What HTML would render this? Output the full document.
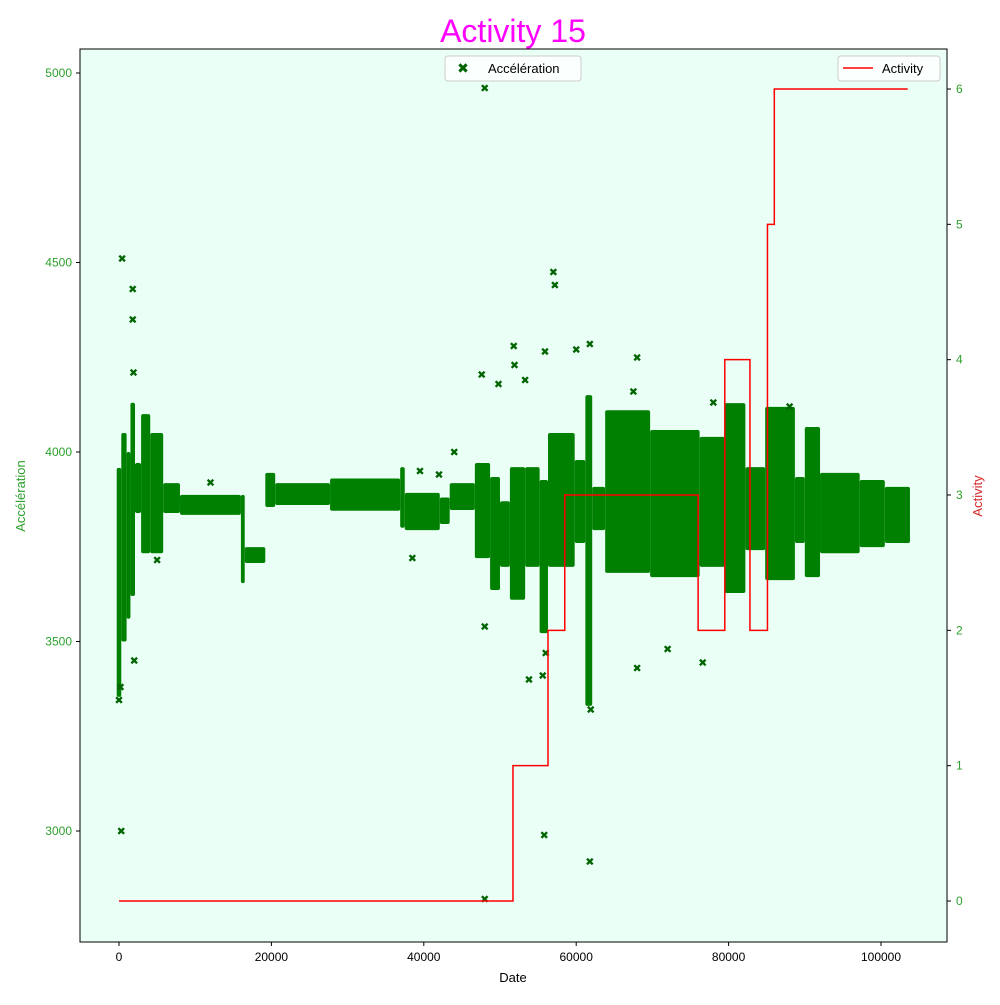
<!DOCTYPE html>
<html><head><meta charset="utf-8"><style>
body{margin:0;background:#fff;font-family:"Liberation Sans","DejaVu Sans",sans-serif}
</style></head><body>
<svg id="chart" width="1000" height="1000" xmlns="http://www.w3.org/2000/svg" font-family="Liberation Sans, DejaVu Sans, sans-serif">
<rect width="1000" height="1000" fill="#fff"/>
<rect x="80" y="49" width="867" height="893" fill="#eafff5"/>
<g id="band"></g><g id="pts"></g><g id="line"></g>
<rect x="80" y="49" width="867" height="893" fill="none" stroke="#000" stroke-width="1"/>
<g id="axes"></g>
<text x="513" y="42" text-anchor="middle" font-size="32" fill="#ff00ff">Activity 15</text>
<text x="513" y="982" text-anchor="middle" font-size="13">Date</text>
<text transform="translate(25,496) rotate(-90)" text-anchor="middle" font-size="13" fill="#2ca02c">Accélération</text>
<text transform="translate(982,496) rotate(-90)" text-anchor="middle" font-size="13" fill="#d62728">Activity</text>
<g>
<rect x="445" y="56" width="136" height="25" rx="3" fill="#fff" fill-opacity="0.8" stroke="#ccc"/>
<text x="463" y="73" text-anchor="middle" font-size="14" fill="#006400" font-weight="bold">✖</text>
<text x="488" y="73" font-size="13">Accélération</text></g>
<g>
<rect x="838" y="56" width="102" height="25" rx="3" fill="#fff" fill-opacity="0.8" stroke="#ccc"/>
<line x1="843" y1="68" x2="873" y2="68" stroke="red" stroke-width="1.5"/>
<text x="882" y="73" font-size="13">Activity</text></g>
</svg>
<script>
const xTicks=[0,20000,40000,60000,80000,100000];
const yLeftTicks=[3000,3500,4000,4500,5000];
const yRightTicks=[0,1,2,3,4,5,6];
const bandX0=[-300,300,1000,1500,2100,2900,4100,5800,8000,16000,16500,19200,20500,27700,36900,37500,42100,43400,46700,48700,50000,51300,53300,55200,56300,59800,61200,62100,63800,69700,76200,79500,82200,84800,88700,90000,92000,97200,100500];
const bandX1=[300,1000,1500,2100,2900,4100,5800,8000,16000,16500,19200,20500,27700,36900,37500,42100,43400,46700,48700,50000,51300,53300,55200,56300,59800,61200,62100,63800,69700,76200,79500,82200,84800,88700,90000,92000,97200,100500,103800];
const bandLo=[3354,3500,3560,3620,3839,3733,3733,3839,3834,3654,3707,3855,3860,3845,3800,3794,3810,3847,3720,3636,3697,3610,3697,3522,3697,3760,3330,3794,3681,3670,3697,3628,3741,3662,3760,3670,3733,3749,3760];
const bandHi=[3958,4050,4000,4130,3971,4100,4050,3918,3887,3887,3749,3945,3918,3930,3960,3892,3880,3918,3971,3934,3870,3960,3960,3926,4050,3979,4150,3908,4110,4058,4040,4129,3960,4119,3934,4066,3945,3926,3908];
const outX=[300,400,1800,1800,1900,48000,48000,55800,61800,57000,57200,51800,61800,68000,72000,76600,53800,55600,47600,49800,60000,0,200,2000,5000,12000,42000,38500,48000,56000,61900,68000,78000,88000,67500,51900,55900,44000,53300,39500];
const outY=[3000,4510,4430,4350,4210,4960,2820,2990,2920,4475,4440,4280,4285,3430,3480,3445,3400,3410,4205,4180,4270,3345,3380,3450,3715,3920,3940,3720,3540,3470,3320,4250,4130,4120,4160,4230,4265,4000,4190,3950];
const actX=[0,51700,56300,58500,76000,79500,82800,85100,86000,103500];
const actV=[0,1,2,3,2,4,2,5,6,6];
const sx=v=>119+v*762/100000;
const syL=v=>831-(v-3000)*0.379;
const syR=v=>901-v*812/6;
const NS="http://www.w3.org/2000/svg";
function mk(t,a,p){const e=document.createElementNS(NS,t);for(const k in a)e.setAttribute(k,a[k]);p.appendChild(e);return e;}
const band=document.getElementById('band');
for(let i=0;i<bandX0.length;i++){
 const r=mk('rect',{x:sx(bandX0[i]),y:syL(bandHi[i]),width:sx(bandX1[i])-sx(bandX0[i]),height:syL(bandLo[i])-syL(bandHi[i]),fill:'#008000',rx:2},band);
 
 
}
const pts=document.getElementById('pts');
for(let i=0;i<outX.length;i++){
 const t=mk('text',{x:sx(outX[i]),y:syL(outY[i])+4,'text-anchor':'middle','font-size':11,fill:'#006400','font-weight':'bold'},pts);
 t.textContent='✖';
 
 
}
let d='';
for(let i=0;i<actX.length;i++){
 if(i===0)d+='M'+sx(actX[0])+','+syR(actV[0]);
 else d+='H'+sx(actX[i])+'V'+syR(actV[i]);
}
const ln=mk('path',{d:d,fill:'none',stroke:'red','stroke-width':1.5},document.getElementById('line'));


const ax=document.getElementById('axes');
xTicks.forEach(v=>{const x=sx(v);mk('line',{x1:x,x2:x,y1:942,y2:946,stroke:'#000'},ax);
 const t=mk('text',{x:x,y:961,'text-anchor':'middle','font-size':12},ax);t.textContent=v;
 
 });
yLeftTicks.forEach(v=>{const y=syL(v);mk('line',{x1:76,x2:80,y1:y,y2:y,stroke:'#000'},ax);
 const t=mk('text',{x:72,y:y+4,'text-anchor':'end','font-size':12,fill:'#2ca02c'},ax);t.textContent=v;
 
 });
yRightTicks.forEach(v=>{const y=syR(v);mk('line',{x1:947,x2:951,y1:y,y2:y,stroke:'#000'},ax);
 const t=mk('text',{x:956,y:y+4,'font-size':12,fill:'#2ca02c'},ax);t.textContent=v;
 
 });
</script>
</body></html>
